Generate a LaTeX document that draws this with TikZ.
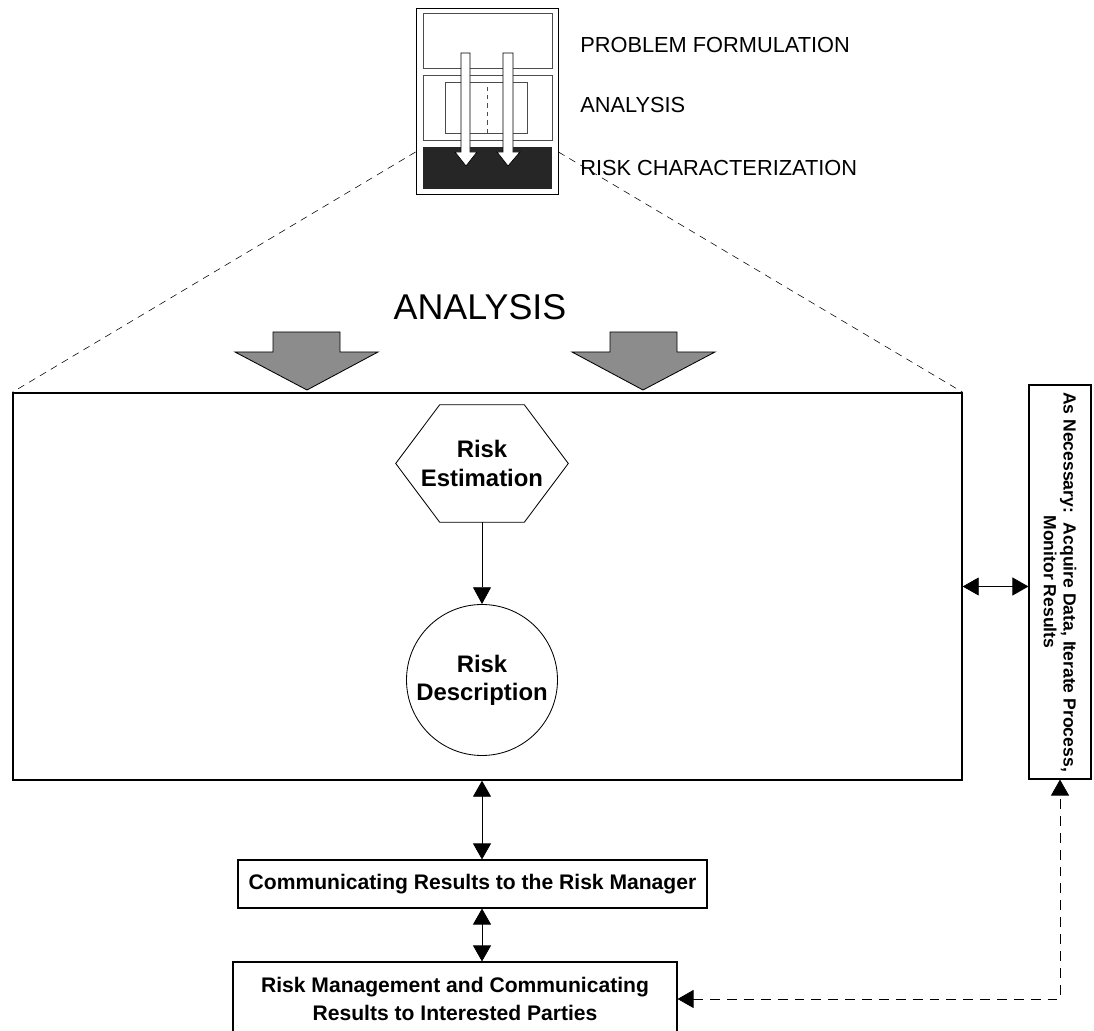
\documentclass[tikz,border=0pt]{standalone}
\usepackage{fontspec}
\setmainfont{Liberation Sans}
\usetikzlibrary{arrows.meta}

\begin{document}
\begin{tikzpicture}[every node/.style={align=center, inner sep=0pt},
                    box/.style={draw, line width=0.8pt},
                    boxtext/.style={font=\bfseries\fontsize{15}{20}\selectfont},
                    iconlabel/.style={anchor=west, font=\fontsize{15.5}{18}\selectfont},
                    link/.style={line width=0.6pt, {Triangle[width=0.45cm, length=0.4cm]}-{Triangle[width=0.45cm, length=0.4cm]}},
                    fatarrow/.style={draw, line width=0.6pt, fill=black!45},
                    thinarrow/.style={draw, line width=0.5pt, fill=white}]
                    \useasboundingbox (0,0) rectangle (27.35,25.775);

                    % Small icon of the three phases
                    \node[draw, line width=0.6pt, minimum width=3.55cm, minimum height=4.65cm] (Icon) at (12.175,23.25) {};
                    \draw[line width=0.4pt, black!70] (10.575,24.075) rectangle (13.8,25.45);
                    \draw[line width=0.4pt, black!70] (10.575,22.275) rectangle (13.8,23.9);
                    \draw[line width=0.4pt, black!70] (11.125,22.45) rectangle (13.175,23.725);
                    \draw[line width=0.4pt, black!70, dashed] (12.175,22.45) -- (12.175,23.725);
                    \fill[black!85] (10.575,21.05) rectangle (13.8,22.1);
                    \draw[thinarrow] (11.525,24.45) -- (11.75,24.45) -- (11.75,21.975) -- (11.925,21.975) -- (11.65,21.625) -- (11.375,21.975) -- (11.525,21.975) -- cycle;
                    \draw[thinarrow] (12.575,24.45) -- (12.825,24.45) -- (12.825,21.975) -- (13.0,21.975) -- (12.7,21.625) -- (12.425,21.975) -- (12.575,21.975) -- cycle;

                    \node[iconlabel] (PF) at (14.5,24.65) {PROBLEM FORMULATION};
                    \node[iconlabel] (AN) at (14.5,23.15) {ANALYSIS};
                    \node[iconlabel] (RC) at (14.5,21.575) {RISK CHARACTERIZATION};

                    % Expanded risk characterization
                    \node[box, line width=1pt, minimum width=23.725cm, minimum height=9.675cm] (Char) at (12.1875,11.1125) {};
                    \draw[line width=0.4pt, dash pattern=on 5pt off 4pt] ([yshift=-1.275cm]Icon.west) -- (Char.north west);
                    \draw[line width=0.4pt, dash pattern=on 5pt off 4pt] ([yshift=-1.275cm]Icon.east) -- (Char.north east);

                    \node[font=\fontsize{25.5}{30}\selectfont] (Title) at (12.0,18.1) {ANALYSIS};
                    \draw[fatarrow] (6.825,17.475) -- (8.5,17.475) -- (8.5,16.975) -- (9.45,16.975) -- (7.675,16.025) -- (5.875,16.975) -- (6.825,16.975) -- cycle;
                    \draw[fatarrow] (15.25,17.475) -- (16.925,17.475) -- (16.925,16.975) -- (17.875,16.975) -- (16.075,16.025) -- (14.3,16.975) -- (15.25,16.975) -- cycle;

                    \node[font=\bfseries\fontsize{17}{20}\selectfont, minimum width=4.3cm, minimum height=2.925cm] (Est) at (12.05,14.1875) {Risk\\Estimation};
                    \draw[line width=0.6pt] ([xshift=1.1cm]Est.north west) -- ([xshift=-1.1cm]Est.north east) -- (Est.east) -- ([xshift=-1.1cm]Est.south east) -- ([xshift=1.1cm]Est.south west) -- (Est.west) -- cycle;
                    \node[draw, circle, line width=0.6pt, minimum size=3.775cm, font=\bfseries\fontsize{17}{20}\selectfont] (Desc) at (12.05,8.775) {Risk\\Description};
                    \draw[-{Triangle[width=0.45cm, length=0.42cm]}, line width=0.6pt] (Est) -- (Desc);

                    % Side box
                    \node[box, rotate=-90, minimum width=9.85cm, minimum height=1.55cm, font=\bfseries\fontsize{12.5}{14}\selectfont] (Iter) at (26.5,11.225) {As Necessary:\ \ Acquire Data, Iterate Process,\\Monitor Results};

                    % Reporting boxes
                    \node[box, boxtext, minimum width=11.725cm, minimum height=1.2cm] (Report) at (11.8125,3.675) {Communicating Results to the Risk Manager};
                    \node[box, boxtext, minimum width=11.1cm, minimum height=1.85cm] (Manage) at (11.375,0.8) {Risk Management and Communicating\\Results to Interested Parties};

                    % Arrows
                    \draw[link] (Desc |- Char.south) -- (Desc |- Report.north);
                    \draw[link] (Desc |- Report.south) -- (Desc |- Manage.north);
                    \draw[link] (Char.east) -- (Char.east -| Iter.south);
                    \draw[link, dash pattern=on 7pt off 5pt] (Manage.east) -| (Iter.east);
                \end{tikzpicture}
\end{document}
